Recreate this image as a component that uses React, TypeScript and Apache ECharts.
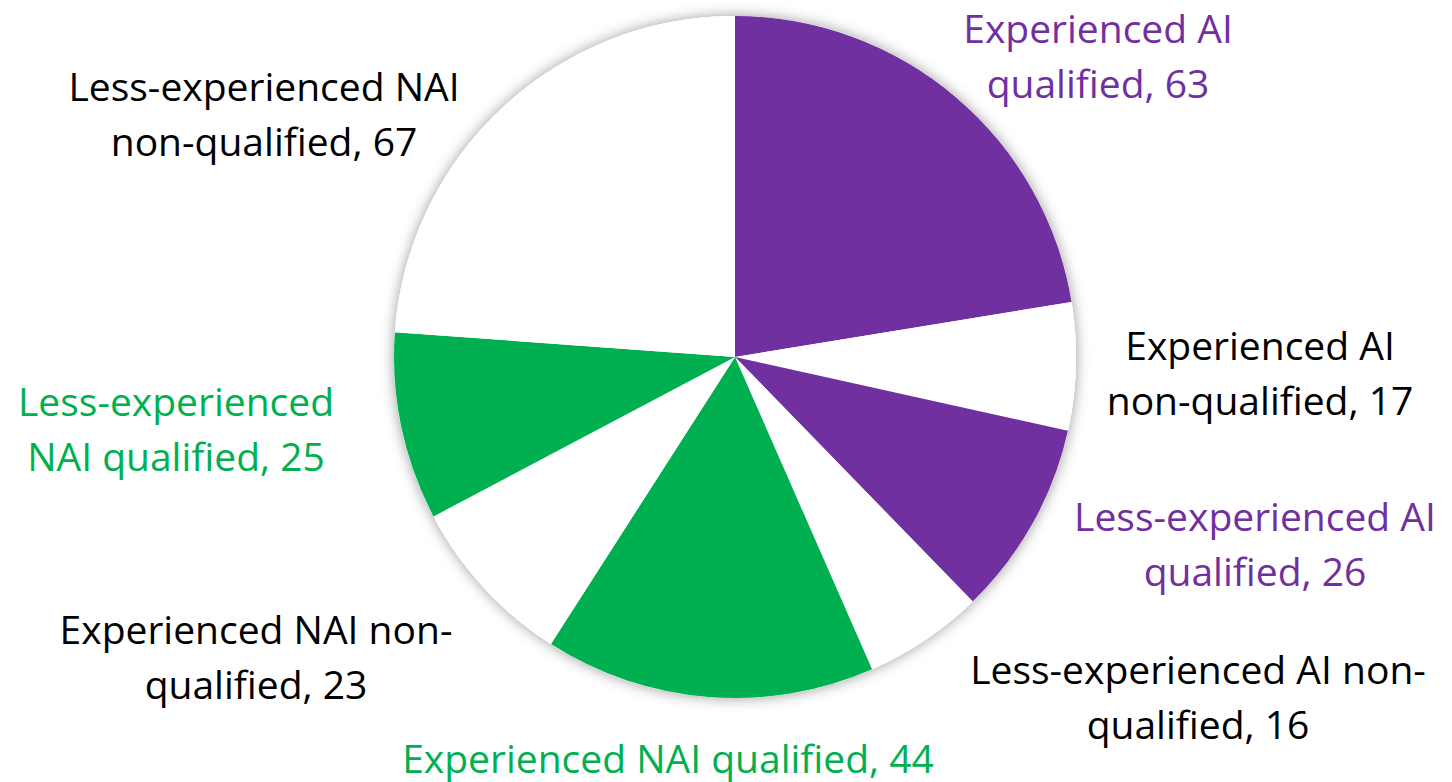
import React, { useEffect, useRef } from "react";
import * as echarts from "echarts";

const categories = [
  "Experienced AI\nqualified",
  "Experienced AI\nnon-qualified",
  "Less-experienced AI\nqualified",
  "Less-experienced AI non-\nqualified",
  "Experienced NAI qualified",
  "Experienced NAI non-\nqualified",
  "Less-experienced\nNAI qualified",
  "Less-experienced NAI\nnon-qualified",
];
const values = [63, 17, 26, 16, 44, 23, 25, 67];
const sliceColors = ["#7030A0", "#FFFFFF", "#7030A0", "#FFFFFF", "#00B050", "#FFFFFF", "#00B050", "#FFFFFF"];
const labelColors = ["#7030A0", "#000000", "#7030A0", "#000000", "#00B050", "#000000", "#00B050", "#000000"];
const labelPositions: [number, number][] = [
  [1098, 55],
  [1260, 372],
  [1255, 543],
  [1198, 696],
  [668, 757],
  [256, 656],
  [176, 428],
  [264, 113],
];

const CENTER: [number, number] = [735, 357];
const RADIUS = 341;

export default function App() {
  const ref = useRef<HTMLDivElement>(null);
  useEffect(() => {
    if (!ref.current) return;
    const chart = echarts.init(ref.current, null, { renderer: "svg" });
    chart.setOption({
      animation: false,
      backgroundColor: "#FFFFFF",
      series: [
        {
          type: "pie",
          silent: true,
          center: CENTER,
          radius: RADIUS,
          z: 1,
          label: { show: false },
          labelLine: { show: false },
          itemStyle: {
            color: "#FFFFFF",
            shadowBlur: 14,
            shadowColor: "rgba(0,0,0,0.4)",
          },
          data: [{ value: 1, name: "" }],
        },
        {
          type: "pie",
          center: CENTER,
          radius: RADIUS,
          startAngle: 90,
          clockwise: true,
          z: 2,
          avoidLabelOverlap: false,
          labelLine: { show: false },
          label: {
            show: true,
            position: "outside",
            formatter: (p: any) => `${p.name}, ${p.value}`,
            fontFamily: "Open Sans",
            fontSize: 39,
            lineHeight: 55,
            align: "center",
          },
          labelLayout: (params: any) => {
            const pos = labelPositions[params.dataIndex];
            return { x: pos[0], y: pos[1], align: "center", verticalAlign: "middle" };
          },
          data: categories.map((name, i) => ({
            name,
            value: values[i],
            itemStyle: { color: sliceColors[i] },
            label: { color: labelColors[i] },
          })),
        },
      ],
    });
    return () => chart.dispose();
  }, []);
  return (
    <div
      ref={ref}
      style={{ position: "absolute", left: 0, top: 0, width: 1452, height: 782 }}
    />
  );
}
